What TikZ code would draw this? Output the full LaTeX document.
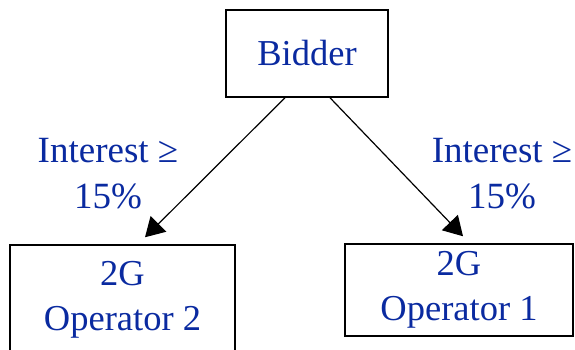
\documentclass[tikz,border=0pt]{standalone}
\usepackage{fontspec}
\setmainfont{Liberation Serif}
\usetikzlibrary{arrows.meta,calc}
\definecolor{txtblue}{RGB}{10,42,160}
\begin{document}
\begin{tikzpicture}[x=1pt,y=-1pt,
  box/.style={draw=black,line width=1.5pt,inner sep=0pt,text=txtblue,align=center,
    font=\fontsize{36.5}{45}\selectfont},
  lbl/.style={text=txtblue,align=center,inner sep=0pt,font=\fontsize{37}{46}\selectfont},
  arr/.style={line width=1.2pt,-{Triangle[length=19pt,width=22pt]}}]
\useasboundingbox (0,0) rectangle (575,349);
\begin{scope}
\clip (0,0) rectangle (575,349);
\node[box,minimum width=162pt,minimum height=87pt] (bidder) at (307,53.5) {Bidder};
\node[box,minimum width=225pt,minimum height=110pt] (op2) at (122.5,300) {2G\\Operator 2};
\node[box,minimum width=228pt,minimum height=92pt] (op1) at (459,290) {2G\\Operator 1};
\end{scope}
\node[lbl] (l2) at (108,174) {Interest ≥\\15\%};
\node[lbl] (l1) at (502,174) {Interest ≥\\15\%};
\draw[arr] ($(bidder.south)+(-22,0)$) -- ($(op2.north)+(22.5,-7)$);
\draw[arr] ($(bidder.south)+(23,0)$) -- ($(op1.north)+(4,-7)$);
\end{tikzpicture}
\end{document}
